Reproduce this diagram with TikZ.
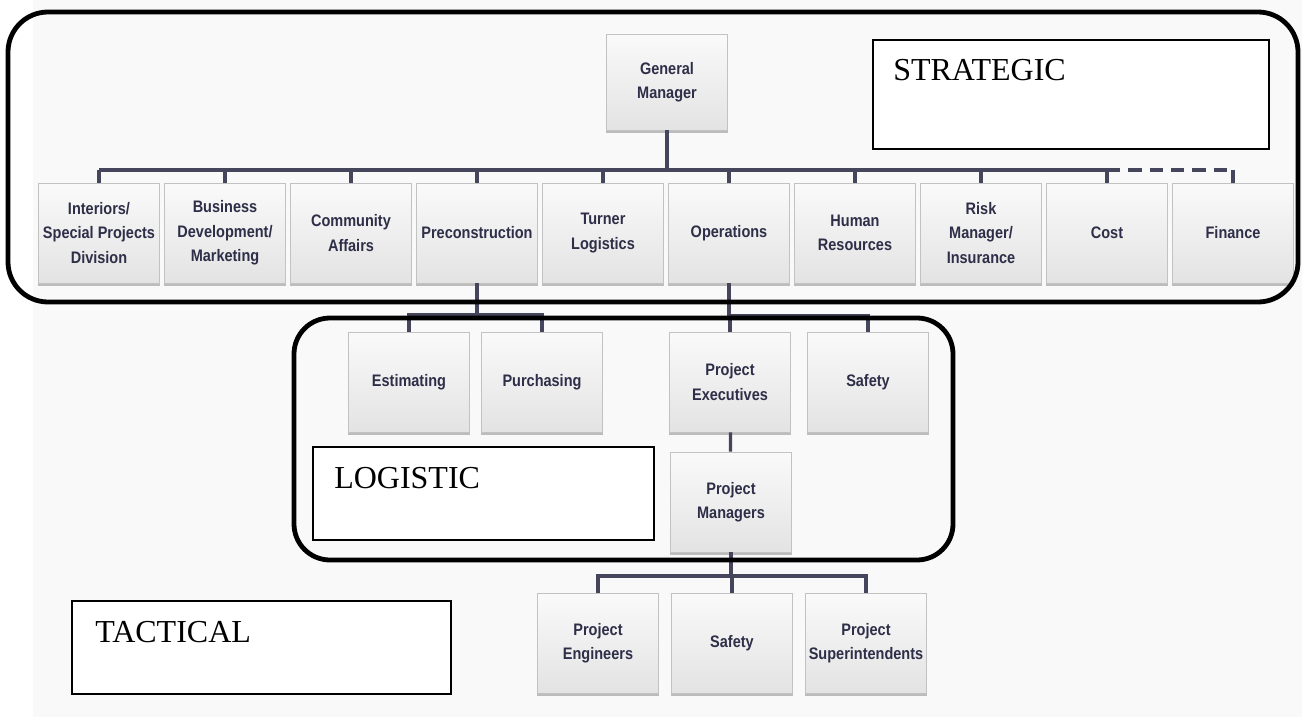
\documentclass[tikz,border=0pt]{standalone}
\usepackage{fontspec}
\setmainfont{Liberation Serif}
\newfontfamily\boxfont[FakeStretch=0.87]{Liberation Sans}
\usepackage{xcolor}
\usepackage{tikz}
\usetikzlibrary{shadows}

\definecolor{chartbg}{HTML}{F9F9F9}
\definecolor{linkcol}{HTML}{45455C}
\definecolor{boxtext}{HTML}{2E2E48}
\definecolor{boxedge}{HTML}{C2C2C2}

\begin{document}
\begin{tikzpicture}[x=0.75pt,y=0.75pt,yscale=-1,xscale=1,
  orgbox/.style={draw=boxedge, line width=0.6pt, top color=gray!4, bottom color=gray!22,
    drop shadow={shadow xshift=0pt, shadow yshift=-2.2pt, opacity=0.5},
    minimum width=91pt, minimum height=75pt, inner sep=1pt, align=center, text=boxtext,
    font=\boxfont\bfseries\fontsize{12.5}{18.4}\selectfont},
  link/.style={draw=linkcol, line width=2.4pt},
  frame/.style={draw=black, line width=3.6pt, rounded corners=30pt},
  lvlbox/.style={fill=white, draw=black, line width=1.4pt},
  lvltext/.style={anchor=base west, inner sep=0pt, font=\fontsize{24}{28}\selectfont}]

\useasboundingbox (0,0) rectangle (1302,717);
\fill [chartbg] (33,0) rectangle (1302,717);


\draw (667,82) node [orgbox, minimum height=72pt] (gm) {General\\Manager};

\draw (99,233) node [orgbox] (intr) {Interiors/\\Special Projects\\Division};
\draw (225,233) node [orgbox] (busdev) {Business\\Development/\\Marketing};
\draw (351,233) node [orgbox] (comm) {Community\\Affairs};
\draw (477,233) node [orgbox] (precon) {Preconstruction};
\draw (603,233) node [orgbox] (turner) {Turner\\Logistics};
\draw (729,233) node [orgbox] (ops) {Operations};
\draw (855,233) node [orgbox] (hr) {Human\\Resources};
\draw (981,233) node [orgbox] (risk) {Risk\\Manager/\\Insurance};
\draw (1107,233) node [orgbox] (cost) {Cost};
\draw (1233,233) node [orgbox] (fin) {Finance};

\draw (409,382) node [orgbox] (est) {Estimating};
\draw (542,382) node [orgbox] (purch) {Purchasing};
\draw (730,382) node [orgbox] (pexec) {Project\\Executives};
\draw (868,382) node [orgbox] (safeA) {Safety};
\draw (731,502) node [orgbox] (pman) {Project\\Managers};

\draw (598,643) node [orgbox] (peng) {Project\\Engineers};
\draw (732,643) node [orgbox] (safeB) {Safety};
\draw (866,643) node [orgbox] (psup) {Project\\Superintendents};


\coordinate (topbus) at (99,170);
\draw [link] (gm.south) -- (gm.south |- topbus);
\draw [link] (intr.north |- topbus) -- (cost.north |- topbus);
\foreach \n in {intr,busdev,comm,precon,turner,ops,hr,risk,cost}
  \draw [link] (\n.north |- topbus) -- (\n.north);
\draw [link, dash pattern=on 10pt off 6pt] (cost.north |- topbus) -- (fin.north |- topbus);
\draw [link] (fin.north |- topbus) -- (fin.north);

\coordinate (prebus) at (479,315);
\draw [link] (precon.south) -- (precon.south |- prebus);
\draw [link] (est.north) -- (est.north |- prebus) -- (purch.north |- prebus) -- (purch.north);

\coordinate (opsbus) at (729,316);
\draw [link] (ops.south) -- (ops.south |- opsbus);
\draw [link] (pexec.north) -- (pexec.north |- opsbus) -- (safeA.north |- opsbus) -- (safeA.north);

\draw [link] (pexec) -- (pman);

\coordinate (lowbus) at (733,576);
\draw [link] (pman.south) -- (pman.south |- lowbus);
\draw [link] (peng.north) -- (peng.north |- lowbus) -- (psup.north |- lowbus) -- (psup.north);
\draw [link] (safeB.north |- lowbus) -- (safeB.north);


\draw [frame] (8,12) rectangle (1298,302);

\draw [frame, rounded corners=27pt] (294,318) rectangle (953,560);


\draw [lvlbox] (873,40) rectangle (1269,149);
\draw (893,80) node [lvltext] (strat) {STRATEGIC};

\draw [lvlbox] (313,447) rectangle (654,540);
\draw (334,488) node [lvltext] (logi) {LOGISTIC};

\draw [lvlbox] (72,601) rectangle (451,694);
\draw (95,642) node [lvltext] (tact) {TACTICAL};

\end{tikzpicture}
\end{document}
